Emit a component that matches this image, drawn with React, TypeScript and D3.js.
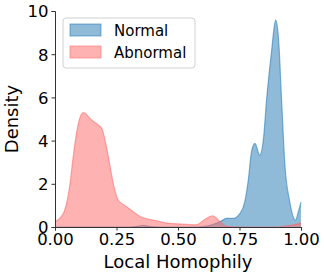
import { useEffect, useRef } from "react";
import * as d3 from "d3";

// KDE curves: [local homophily, density]
const normalCurve: [number, number][] = [
  [0.0, 0.0], [0.3, 0.0], [0.34, 0.04], [0.36, 0.08], [0.38, 0.03], [0.42, 0.0],
  [0.58, 0.0], [0.62, 0.05], [0.65, 0.15], [0.671, 0.25], [0.698, 0.4],
  [0.725, 0.4], [0.752, 0.63], [0.772, 1.2], [0.786, 2.2], [0.799, 3.5],
  [0.813, 3.87], [0.832, 3.33], [0.847, 4.03], [0.86, 5.88], [0.88, 8.1],
  [0.897, 9.58], [0.909, 8.66], [0.921, 5.9], [0.935, 2.8], [0.953, 1.25],
  [0.978, 0.32], [0.989, 0.7], [1.0, 1.15],
];

const abnormalCurve: [number, number][] = [
  [0.0, 0.25], [0.034, 0.63], [0.061, 2.0], [0.074, 3.25], [0.095, 4.8],
  [0.115, 5.3], [0.149, 4.95], [0.176, 4.72], [0.19, 4.57], [0.217, 3.25],
  [0.237, 2.0], [0.257, 1.25], [0.291, 0.94], [0.318, 0.71], [0.352, 0.45],
  [0.413, 0.29], [0.454, 0.18], [0.535, 0.12], [0.575, 0.1], [0.603, 0.3],
  [0.641, 0.52], [0.671, 0.25], [0.698, 0.03], [0.75, 0.0], [0.9, 0.0],
  [0.95, 0.06], [1.0, 0.18],
];

const xTicks = [0, 0.25, 0.5, 0.75, 1.0];
const yTicks = [0, 2, 4, 6, 8, 10];
const seriesNames = ["Normal", "Abnormal"];
const seriesColors = ["#1f77b4", "#ff6666"];

export default function App() {
  const svgRef = useRef<SVGSVGElement>(null);

  useEffect(() => {
    if (!svgRef.current) return;
    const width = 324;
    const height = 277;
    const margin = { top: 11, right: 23, bottom: 50, left: 55 };
    const innerW = width - margin.left - margin.right;
    const innerH = height - margin.top - margin.bottom;
    const font = "DejaVu Sans, sans-serif";

    const svg = d3.select(svgRef.current);
    svg.selectAll("*").remove();

    const g = svg
      .append("g")
      .attr("transform", `translate(${margin.left},${margin.top})`);

    const x = d3.scaleLinear().domain([0, 1]).range([0, innerW]);
    const y = d3.scaleLinear().domain([0, 10]).range([innerH, 0]);

    const area = d3
      .area<[number, number]>()
      .x((d) => x(d[0]))
      .y0(innerH)
      .y1((d) => y(d[1]))
      .curve(d3.curveMonotoneX);

    const line = d3
      .line<[number, number]>()
      .x((d) => x(d[0]))
      .y((d) => y(d[1]))
      .curve(d3.curveMonotoneX);

    [normalCurve, abnormalCurve].forEach((curve, i) => {
      g.append("path")
        .datum(curve)
        .attr("fill", seriesColors[i])
        .attr("fill-opacity", 0.5)
        .attr("d", area);
      g.append("path")
        .datum(curve)
        .attr("fill", "none")
        .attr("stroke", seriesColors[i])
        .attr("stroke-opacity", 0.55)
        .attr("stroke-width", 1.2)
        .attr("d", line);
    });

    // Axes
    const xAxis = g
      .append("g")
      .attr("transform", `translate(0,${innerH})`)
      .call(
        d3
          .axisBottom(x)
          .tickValues(xTicks)
          .tickSize(3.5)
          .tickPadding(3)
          .tickFormat((d) => (d as number).toFixed(2))
      );
    const yAxis = g.append("g").call(
      d3
        .axisLeft(y)
        .tickValues(yTicks)
        .tickSize(3.5)
        .tickPadding(3)
        .tickFormat((d) => String(d))
    );
    [xAxis, yAxis].forEach((ax) => {
      ax.select(".domain").attr("stroke", "#333").attr("stroke-width", 1);
      ax.selectAll(".tick line").attr("stroke", "#333");
      ax.selectAll(".tick text")
        .attr("fill", "#000")
        .attr("font-family", font)
        .attr("font-size", 16.5);
    });
    yAxis.selectAll(".tick text").attr("dy", "0.36em");

    // Axis labels
    svg
      .append("text")
      .attr("x", margin.left + innerW / 2)
      .attr("y", 268)
      .attr("text-anchor", "middle")
      .attr("font-family", font)
      .attr("font-size", 18)
      .text("Local Homophily");

    svg
      .append("text")
      .attr("transform", `translate(18,${margin.top + innerH / 2}) rotate(-90)`)
      .attr("text-anchor", "middle")
      .attr("font-family", font)
      .attr("font-size", 18)
      .text("Density");

    // Legend
    const legend = svg.append("g").attr("transform", "translate(63,18)");
    legend
      .append("rect")
      .attr("width", 132)
      .attr("height", 50)
      .attr("rx", 3)
      .attr("fill", "#fff")
      .attr("fill-opacity", 0.8)
      .attr("stroke", "#d0d0d0")
      .attr("stroke-width", 1);
    seriesNames.forEach((name, i) => {
      legend
        .append("rect")
        .attr("x", 7)
        .attr("y", 6 + i * 22)
        .attr("width", 31)
        .attr("height", 12)
        .attr("fill", seriesColors[i])
        .attr("fill-opacity", 0.5)
        .attr("stroke", seriesColors[i])
        .attr("stroke-opacity", 0.55);
      legend
        .append("text")
        .attr("x", 51)
        .attr("y", 17.5 + i * 22)
        .attr("font-family", font)
        .attr("font-size", 15)
        .text(name);
    });
  }, []);

  return (
    <svg
      ref={svgRef}
      width={324}
      height={277}
      style={{ position: "absolute", left: 0, top: 0, background: "#fff" }}
    />
  );
}
